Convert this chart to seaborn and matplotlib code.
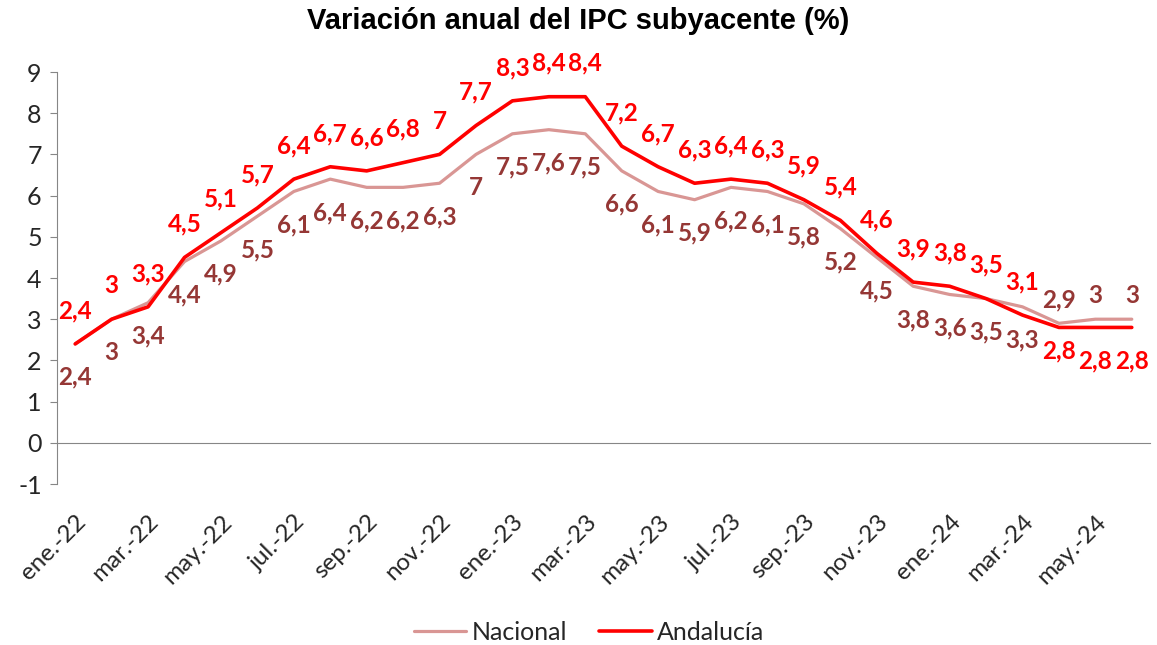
import numpy as np
import pandas as pd
import matplotlib
matplotlib.use("Agg")
import matplotlib.pyplot as plt
import seaborn as sns

# --- Data ---
MONTHS = [
    "ene.-22", "feb.-22", "mar.-22", "abr.-22", "may.-22", "jun.-22",
    "jul.-22", "ago.-22", "sep.-22", "oct.-22", "nov.-22", "dic.-22",
    "ene.-23", "feb.-23", "mar.-23", "abr.-23", "may.-23", "jun.-23",
    "jul.-23", "ago.-23", "sep.-23", "oct.-23", "nov.-23", "dic.-23",
    "ene.-24", "feb.-24", "mar.-24", "abr.-24", "may.-24", "jun.-24",
]
NACIONAL = [2.4, 3, 3.4, 4.4, 4.9, 5.5, 6.1, 6.4, 6.2, 6.2, 6.3, 7,
            7.5, 7.6, 7.5, 6.6, 6.1, 5.9, 6.2, 6.1, 5.8, 5.2, 4.5, 3.8,
            3.6, 3.5, 3.3, 2.9, 3, 3]
ANDALUCIA = [2.4, 3, 3.3, 4.5, 5.1, 5.7, 6.4, 6.7, 6.6, 6.8, 7, 7.7,
             8.3, 8.4, 8.4, 7.2, 6.7, 6.3, 6.4, 6.3, 5.9, 5.4, 4.6, 3.9,
             3.8, 3.5, 3.1, 2.8, 2.8, 2.8]

# --- Style ---
COLORS = {"Nacional": "#D99694", "Andalucía": "#FF0000"}
LABEL_COLORS = {"Nacional": "#953735", "Andalucía": "#FF0000"}
AXIS_GREY = "#868686"
TEXT_COLOR = "#262626"

W, H = 1157, 645


def fmt(v):
    return f"{v:g}".replace(".", ",")


def main():
    sns.set_style("white")
    plt.rcParams["font.family"] = ["Lato", "DejaVu Sans"]
    plt.rcParams["axes.unicode_minus"] = False

    n = len(MONTHS)
    df = pd.DataFrame({
        "idx": list(range(n)) * 2,
        "valor": NACIONAL + ANDALUCIA,
        "serie": ["Nacional"] * n + ["Andalucía"] * n,
    })

    fig = plt.figure(figsize=(W / 100, H / 100), dpi=100)
    ax = fig.add_axes([57 / W, 1 - 484 / H, (1150 - 57) / W, (484 - 72) / H])

    sns.lineplot(data=df, x="idx", y="valor", hue="serie",
                 hue_order=["Nacional", "Andalucía"], palette=COLORS,
                 ax=ax, legend=False)
    ax.lines[0].set_linewidth(2.3)
    ax.lines[1].set_linewidth(2.6)

    # data labels: Andalucía above, Nacional below (swapped at the tail)
    for name, values in (("Nacional", NACIONAL), ("Andalucía", ANDALUCIA)):
        sign = -1 if name == "Nacional" else 1
        for i, v in enumerate(values):
            off = 24 * sign
            if i >= 27:
                off = -17 * sign if name == "Nacional" or i == 27 else -24 * sign
            ax.annotate(fmt(v), (i, v), xytext=(0, off), textcoords="offset points",
                        ha="center", va="center", fontsize=17.5, fontweight="bold",
                        color=LABEL_COLORS[name])

    # axes
    ax.set_xlim(-0.5, n - 0.5)
    ax.set_ylim(-1, 9)
    ax.set_yticks(range(-1, 10))
    ax.set_xlabel("")
    ax.set_ylabel("")
    for s in ("top", "right"):
        ax.spines[s].set_visible(False)
    ax.spines["left"].set_color(AXIS_GREY)
    ax.spines["bottom"].set_color(AXIS_GREY)
    ax.spines["bottom"].set_position(("data", 0))

    ax.set_xticks(np.arange(-0.5, n, 2))
    ax.set_xticklabels([])
    ax.set_xticks(range(0, n, 2), minor=True)
    ax.set_xticklabels(MONTHS[0::2], minor=True)
    ax.tick_params(axis="x", which="major", length=6, direction="out",
                   color=AXIS_GREY, width=1)
    ax.tick_params(axis="x", which="minor", length=0, pad=49,
                   labelsize=17.5, labelcolor=TEXT_COLOR)
    plt.setp(ax.get_xticklabels(minor=True), rotation=45, ha="right",
             rotation_mode="anchor")
    ax.tick_params(axis="y", length=5, direction="out", color=AXIS_GREY,
                   labelsize=18, labelcolor=TEXT_COLOR, pad=6, left=True)

    fig.text(0.5, 1 - 21 / H, "Variación anual del IPC subyacente (%)",
             ha="center", va="center", fontsize=21, fontweight="bold",
             family=["Liberation Sans", "DejaVu Sans"], color="black")

    fig.legend(handles=[ax.lines[0], ax.lines[1]], labels=["Nacional", "Andalucía"],
               loc="center", bbox_to_anchor=(0.509, 1 - 632 / H), ncol=2,
               frameon=False, fontsize=18, handlelength=2.1, handletextpad=0.2,
               columnspacing=1.3, labelcolor=TEXT_COLOR)

    fig.savefig("out.png", dpi=100)


if __name__ == "__main__":
    main()
